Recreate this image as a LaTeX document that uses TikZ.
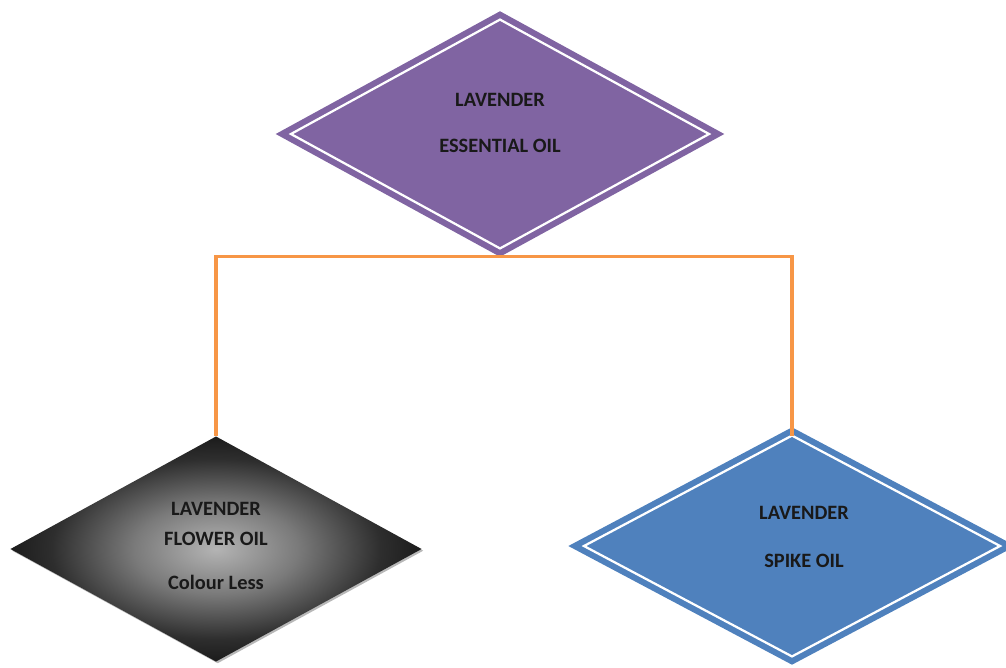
\documentclass[tikz,border=0pt]{standalone}
\usepackage{fontspec}
\setmainfont{Carlito}
\usetikzlibrary{shapes.geometric,shadows}
\definecolor{lavpurple}{HTML}{8064A2}
\definecolor{spikeblue}{HTML}{4F81BD}
\definecolor{linkorange}{HTML}{F79646}
\definecolor{shadelight}{HTML}{B4B4B4}
\definecolor{shademid}{HTML}{7A7A7A}
\definecolor{shadedark}{HTML}{2E2E2E}
\pgfdeclareradialshading{flowershade}{\pgfpointorigin}{color(0bp)=(shadelight); color(10bp)=(shademid); color(20bp)=(shadedark); color(29bp)=(black!95); color(50bp)=(black)}
\begin{document}
\begin{tikzpicture}[x=0.025cm, y=-0.025cm,
	oilbox/.style={diamond, inner sep=0pt, outer sep=0pt},
	ringed/.style={draw=#1, fill=#1, double=white, double distance=1.6pt, line width=4.4pt},
	lbl/.style={font=\bfseries\fontsize{14.5}{17}\selectfont, align=center, text=black!90},
	link/.style={draw=linkorange, line width=2.6pt}]
	\useasboundingbox (0,0) rectangle (1006,667);
	\node [oilbox, ringed=lavpurple, minimum width=10.45cm, minimum height=5.72cm] (essential) at (500,134) {};
	\node [oilbox, shading=flowershade, minimum width=10.275cm, minimum height=5.625cm,
		drop shadow={shadow xshift=1.2pt, shadow yshift=-1.2pt, fill=gray!70, opacity=0.8}] (flower) at (216,549) {};
	\node [oilbox, ringed=spikeblue, minimum width=10.4cm, minimum height=5.52cm] (spike) at (792,546) {};
	\node [lbl] (essentialtxt) at (500,123) {LAVENDER\\[16.3pt]ESSENTIAL OIL};
	\node [lbl] (flowertxt) at (216,546) {LAVENDER\\[4.3pt]FLOWER OIL\\[14.9pt]Colour Less};
	\node [lbl] (spiketxt) at (804,537) {LAVENDER\\[17pt]SPIKE OIL};
	\coordinate (fork) at ([yshift=-0.2cm]essential.south);
	\draw [link] (fork) -| (flower.north);
	\draw [link] (fork) -| (spike.north);
\end{tikzpicture}
\end{document}
